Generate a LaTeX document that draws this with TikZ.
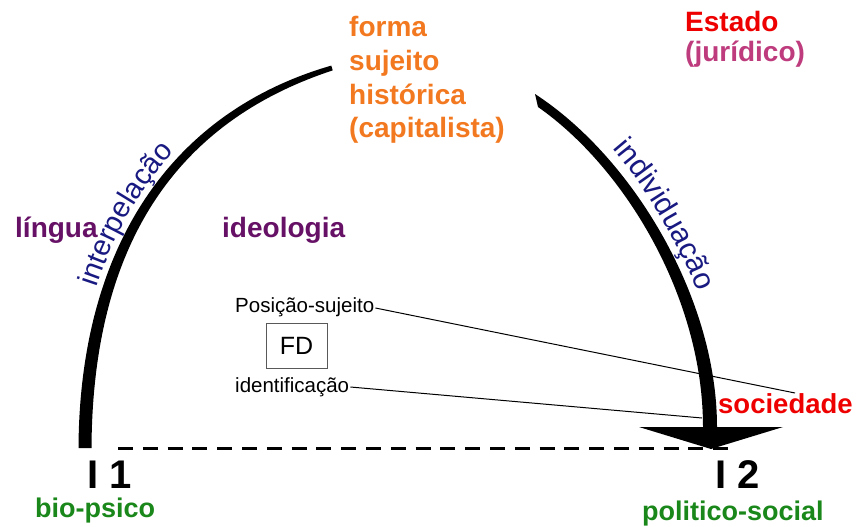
\documentclass[tikz,border=0pt]{standalone}
\usepackage{fontspec}
\setmainfont{Liberation Sans}
\usetikzlibrary{decorations.text}

\definecolor{laranja}{RGB}{243,121,32}
\definecolor{vermelho}{RGB}{238,0,0}
\definecolor{rosa}{RGB}{190,60,125}
\definecolor{roxo}{RGB}{102,17,102}
\definecolor{marinho}{RGB}{25,25,130}
\definecolor{verde}{RGB}{25,135,25}

\newcommand{\tamanho}[1]{\fontsize{#1}{#1}\selectfont}

\begin{document}
\begin{tikzpicture}[x=1pt,y=-1pt,
  rotulo/.style={inner sep=0pt, anchor=base west, font=\bfseries\tamanho{28}},
  nota/.style={inner sep=0pt, anchor=base west, font=\tamanho{20.5}},
  marca/.style={inner sep=0pt, anchor=base west, font=\bfseries\tamanho{40}},
  caixa/.style={draw=black!65, line width=1pt, minimum width=61pt, minimum height=45pt, inner sep=0pt, font=\tamanho{25}},
  fio/.style={line width=1pt, black},
  tracejado/.style={line width=3pt, dash pattern=on 15pt off 9.8pt}]

\useasboundingbox (0,0) rectangle (857,527);
\fill[white] (0,0) rectangle (857,527);

% left arc, tapering from the base up to the top
\fill[black] (78.5,448) .. controls (79.5,250) and (168.4,112.7) .. (331.3,65.6)
  -- (332.7,70.4) .. controls (171.6,123.3) and (92.5,250) .. (91.5,448) -- cycle;

% right arc with its arrowhead
\fill[black] (535,94) .. controls (631.6,156.6) and (717,297) .. (717,427)
  -- (783,427) -- (711,449) -- (639,427) -- (703,427)
  .. controls (703,297) and (624.4,167.4) .. (538,107) -- cycle;

% labels set along the arcs
\path[decorate, decoration={text along path,
    text={|\tamanho{29}|interpelação}, text color=marinho,
    text align={left indent=163pt}}]
  (72,448) .. controls (73,250) and (166.2,105.6) .. (328.2,55.6);
\path[decorate, decoration={text along path,
    text={|\tamanho{30}|individuação}, text color=marinho,
    text align={left indent=92pt}}]
  (545,86.5) .. controls (636,148.5) and (725,297) .. (725,427);

% dashed base line
\coordinate (baseA) at (118,448.5);
\coordinate (baseB) at (728,448.5);
\draw[tracejado] (baseA) -- (baseB);

% top labels
\node[rotulo, text=laranja] (forma) at (349,37) {forma};
\node[rotulo, text=laranja] (sujeito) at (349,70.5) {sujeito};
\node[rotulo, text=laranja] (historica) at (349,104) {histórica};
\node[rotulo, text=laranja] (capitalista) at (349,137) {(capitalista)};
\node[rotulo, text=vermelho] (estado) at (685,32) {Estado};
\node[rotulo, text=rosa] (juridico) at (685,62) {(jurídico)};

% middle labels
\node[rotulo, text=roxo] (lingua) at (15,237) {língua};
\node[rotulo, text=roxo] (ideologia) at (222,237) {ideologia};

\node[nota] (possujeito) at (235,312) {Posição-sujeito};
\node[caixa] (fd) at (296.5,345.5) {FD};
\node[nota] (identificacao) at (235,392) {identificação};

\node[rotulo, text=vermelho, font=\bfseries\tamanho{27.5}] (sociedade) at (718,413) {sociedade};

\coordinate (fimps) at (795,393);
\coordinate (fimid) at (702,418);
\draw[fio] ([xshift=1pt,yshift=4pt]possujeito.base east) -- (fimps);
\draw[fio] ([xshift=1pt,yshift=5pt]identificacao.base east) -- (fimid);

% bottom labels
\node[marca] (i1) at (87,488) {I 1};
\node[marca] (i2) at (715,488) {I 2};
\node[rotulo, text=verde, font=\bfseries\tamanho{27}] (biopsico) at (35,517) {bio-psico};
\node[rotulo, text=verde, font=\bfseries\tamanho{27}] (politico) at (642,520) {politico-social};

\end{tikzpicture}
\end{document}
